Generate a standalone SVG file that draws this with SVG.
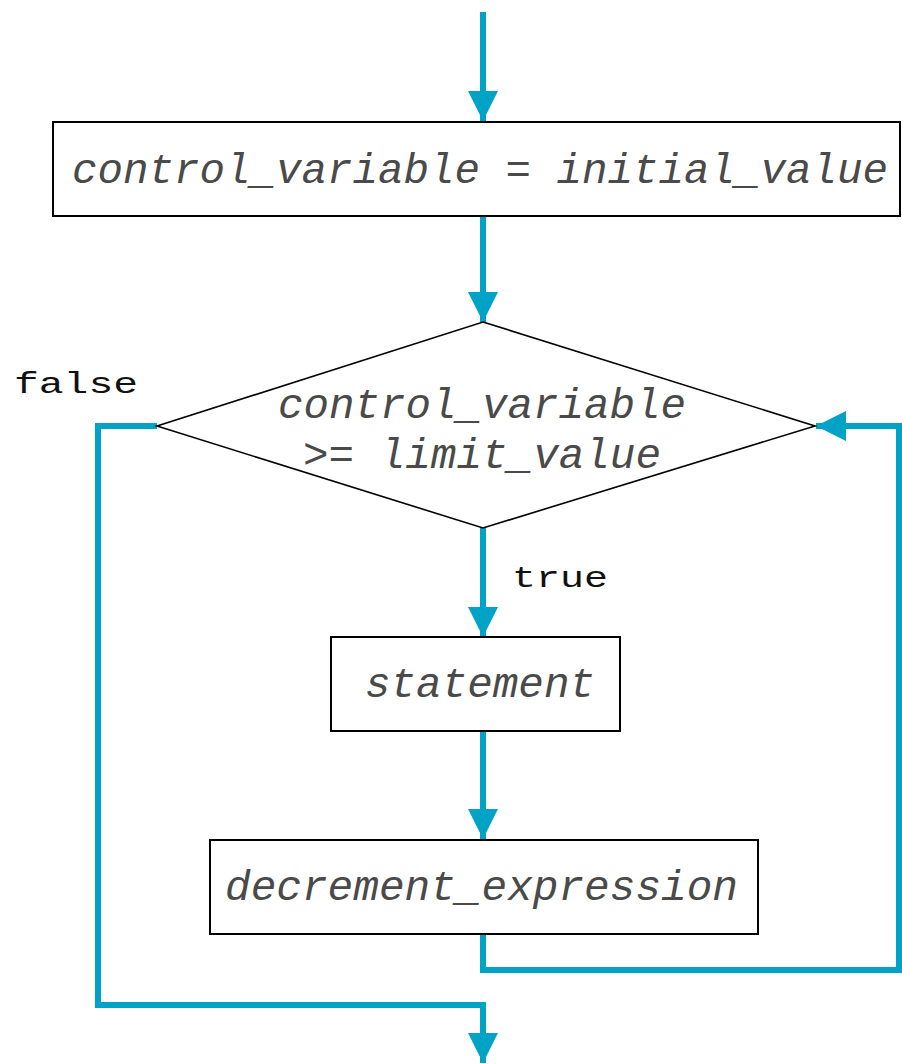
<svg xmlns="http://www.w3.org/2000/svg" width="902" height="1064" viewBox="0 0 902 1064">
<style>
.box{fill:#fff;stroke:#000;stroke-width:2}
.dia{fill:#fff;stroke:#000;stroke-width:1.6}
.code{font-family:"Liberation Mono","DejaVu Sans Mono",monospace;font-style:italic;font-size:42px;fill:#4a4a4a}
.lbl{font-family:"Liberation Mono","DejaVu Sans Mono",monospace;font-size:30px;fill:#111}
.flow{fill:none;stroke:#00a3c6;stroke-width:6}
</style>
<defs>
<marker id="ah" markerUnits="userSpaceOnUse" markerWidth="30" markerHeight="30" viewBox="0 0 30 30" refX="30" refY="15" orient="auto">
<path d="M0,0 L30,15 L0,30 Z" fill="#00a3c6"/>
</marker>
</defs>
<g id="connectors">
<path class="flow" d="M483,12 V121" marker-end="url(#ah)"/>
<path class="flow" d="M483,217 V322" marker-end="url(#ah)"/>
<path class="flow" d="M483,528 V637" marker-end="url(#ah)"/>
<path class="flow" d="M483,731 V839" marker-end="url(#ah)"/>
<path class="flow" d="M483,934 V970 H899 V426 H816" marker-end="url(#ah)"/>
<path class="flow" d="M157,426 H98 V1005 H483 V1063" marker-end="url(#ah)"/>
</g>
<g id="init">
<rect class="box" x="53" y="122" width="847" height="94"/>
<text class="code" x="72" y="183" textLength="816" lengthAdjust="spacingAndGlyphs">control_variable = initial_value</text>
</g>
<g id="cond">
<polygon class="dia" points="483,322 815,426 483,528 157,426"/>
<text class="code" x="278" y="418" textLength="408" lengthAdjust="spacingAndGlyphs">control_variable</text>
<text class="code" x="303" y="468" textLength="358" lengthAdjust="spacingAndGlyphs">&gt;= limit_value</text>
</g>
<g id="false-label">
<text class="lbl" x="14" y="393" textLength="124" lengthAdjust="spacingAndGlyphs">false</text>
</g>
<g id="true-label">
<text class="lbl" x="512" y="587" textLength="96" lengthAdjust="spacingAndGlyphs">true</text>
</g>
<g id="statement">
<rect class="box" x="331" y="637" width="289" height="94"/>
<text class="code" x="365" y="697" textLength="230" lengthAdjust="spacingAndGlyphs">statement</text>
</g>
<g id="decrement">
<rect class="box" x="210" y="840" width="548" height="94"/>
<text class="code" x="225" y="900" textLength="513" lengthAdjust="spacingAndGlyphs">decrement_expression</text>
</g>
</svg>
